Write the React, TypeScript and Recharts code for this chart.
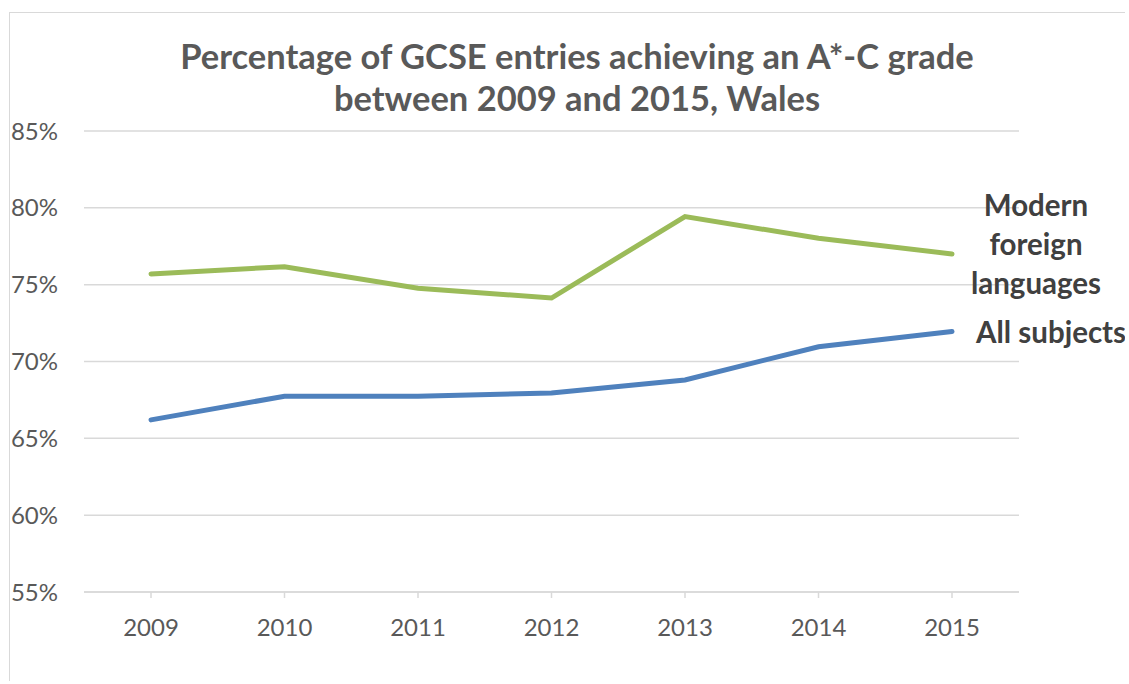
import { LineChart, Line, XAxis, YAxis, CartesianGrid, LabelList } from 'recharts';

const years = ['2009', '2010', '2011', '2012', '2013', '2014', '2015'];
const languages = [75.7, 76.17, 74.77, 74.13, 79.43, 78.02, 77.0];
const allSubjects = [66.2, 67.74, 67.74, 67.95, 68.8, 70.96, 71.95];
const yTicks = [55, 60, 65, 70, 75, 80, 85];

const titleLines = ['Percentage of GCSE entries achieving an A*-C grade', 'between 2009 and 2015, Wales'];
const languagesLabel = ['Modern', 'foreign', 'languages'];
const allSubjectsLabel = 'All subjects';

const data = years.map((year, i) => ({
  year,
  languages: languages[i],
  all: allSubjects[i],
}));

const FONT = 'Lato, "Open Sans", sans-serif';
const lastIndex = years.length - 1;

const LanguagesLabel = (props: any) => {
  const { x, y, index } = props;
  if (index !== lastIndex) return null;
  return (
    <text x={x + 84} y={y} textAnchor="middle" fontFamily={FONT} fontWeight={700} fontSize={29.5} fill="#404040">
      {languagesLabel.map((line, i) => (
        <tspan key={line} x={x + 84} y={y - 38 + i * 39}>
          {line}
        </tspan>
      ))}
    </text>
  );
};

const AllLabel = (props: any) => {
  const { x, y, index } = props;
  if (index !== lastIndex) return null;
  return (
    <text x={x + 24} y={y + 11} fontFamily={FONT} fontWeight={700} fontSize={29.5} fill="#404040">
      {allSubjectsLabel}
    </text>
  );
};

export default function App() {
  return (
    <div
      style={{
        position: 'absolute',
        left: 9,
        top: 12,
        width: 1115,
        height: 668,
        borderLeft: '1px solid #d9d9d9',
        borderTop: '1px solid #d9d9d9',
        background: '#fff',
        fontFamily: FONT,
      }}
    >
      <div
        style={{
          position: 'absolute',
          left: 0,
          top: 22,
          width: 1134,
          textAlign: 'center',
          fontSize: 34.5,
          lineHeight: '42px',
          fontWeight: 700,
          color: '#595959',
        }}
      >
        {titleLines.map((t) => (
          <div key={t}>{t}</div>
        ))}
      </div>
      <LineChart width={1115} height={668} data={data} margin={{ top: 118, right: 106, left: 0, bottom: 39 }}>
        <CartesianGrid vertical={false} stroke="#d9d9d9" strokeWidth={1.5} />
        <XAxis
          dataKey="year"
          height={50}
          padding={{ left: 67, right: 67 }}
          tickSize={6}
          tickMargin={21}
          axisLine={{ stroke: '#d9d9d9', strokeWidth: 1.5 }}
          tickLine={{ stroke: '#d9d9d9', strokeWidth: 1.5 }}
          tick={{ fill: '#595959', fontSize: 24, fontFamily: FONT }}
        />
        <YAxis
          width={74}
          domain={[55, 85]}
          ticks={yTicks}
          axisLine={false}
          tickLine={false}
          tickSize={0}
          tickMargin={26}
          tickFormatter={(v: number) => `${v}%`}
          tick={{ fill: '#595959', fontSize: 24, fontFamily: FONT }}
        />
        <Line
          dataKey="languages"
          stroke="#9BBB59"
          strokeWidth={5}
          strokeLinecap="round"
          dot={false}
          isAnimationActive={false}
        >
          <LabelList dataKey="languages" content={<LanguagesLabel />} />
        </Line>
        <Line
          dataKey="all"
          stroke="#4F81BD"
          strokeWidth={5}
          strokeLinecap="round"
          dot={false}
          isAnimationActive={false}
        >
          <LabelList dataKey="all" content={<AllLabel />} />
        </Line>
      </LineChart>
    </div>
  );
}
